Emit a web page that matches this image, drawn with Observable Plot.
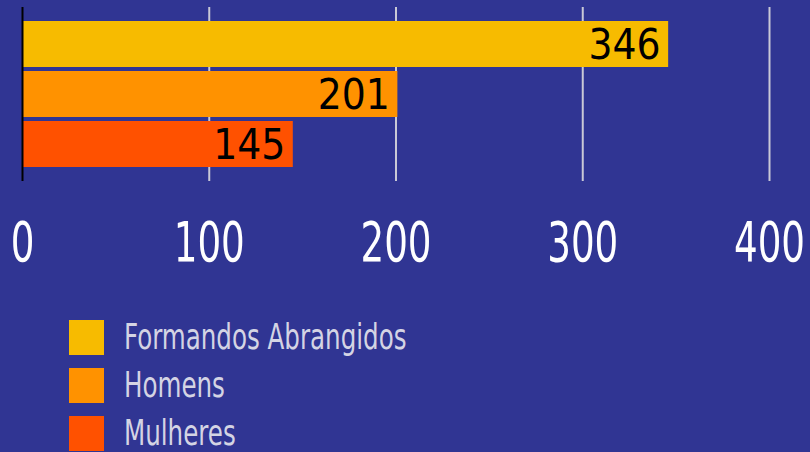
<!DOCTYPE html>
<html>
<head>
<meta charset="utf-8">
<script src="https://cdn.jsdelivr.net/npm/d3@7"></script>
<script src="https://cdn.jsdelivr.net/npm/@observablehq/plot@0.6"></script>
<style>
  html, body { margin: 0; padding: 0; background: #303593; }
  body { width: 810px; height: 452px; overflow: hidden; font-family: "Liberation Sans Narrow", "DejaVu Sans Condensed", sans-serif; }
  #chart svg { display: block; background: #303593; }
  #legend { position: absolute; left: 69px; top: 320px; }
  .item { display: flex; align-items: center; height: 48px; }
  .sw { width: 35px; height: 35px; flex: none; margin-top: -13px; }
  .lab { display: inline-block; color: #d4d4e4; font-size: 35px; margin-left: 20px; margin-top: -13px; line-height: 35px; transform: scaleX(0.78); transform-origin: left center; white-space: nowrap; }
</style>
</head>
<body>
<div id="chart"></div>
<div id="legend"></div>
<script>
const categories = ["Formandos Abrangidos", "Homens", "Mulheres"];
const values = [346, 201, 145];
const colors = ["#F7BB00", "#FF9200", "#FF5100"];
const ticks = [0, 100, 200, 300, 400];

const data = categories.map((c, i) => ({cat: c, value: values[i]}));

const chart = Plot.plot({
  width: 810,
  height: 290,
  marginLeft: 22,
  marginRight: 41,
  marginTop: 7,
  marginBottom: 109,
  style: {background: "#303593", fontFamily: "'Liberation Sans Narrow', 'DejaVu Sans Condensed', sans-serif"},
  x: {domain: [0, 400], ticks: ticks, label: null},
  y: {domain: categories, paddingInner: 0.09, paddingOuter: 0.27, axis: null},
  color: {domain: categories, range: colors},
  marks: [
    Plot.ruleX(ticks.slice(1), {stroke: "#c9c9d6", strokeWidth: 2}),
    Plot.barX(data, {x: "value", y: "cat", fill: "cat"}),
    Plot.ruleX([0], {stroke: "#000", strokeWidth: 2}),
    Plot.text(data, {x: "value", y: "cat", text: d => String(d.value), textAnchor: "end", dx: -8, dy: 1, fontSize: 42, fill: "#000", ariaLabel: "value-labels"}),
    Plot.axisX({ticks: ticks, tickSize: 0, tickPadding: 40, fontSize: 56, fill: "#fff", tickFormat: d => String(d), label: null})
  ]
});
document.getElementById("chart").appendChild(chart);

// Narrow the glyphs horizontally (condensed look) around each text's anchor point.
function condense(sel, s) {
  d3.select(chart).selectAll(sel).each(function() {
    const t = this.getAttribute("transform") || "";
    let x = parseFloat(this.getAttribute("x"));
    if (!isFinite(x)) x = 0;
    this.setAttribute("transform", `${t} translate(${x},0) scale(${s},1) translate(${-x},0)`);
  });
}
condense("g[aria-label='x-axis tick label'] text", 0.74);
condense("g[aria-label='value-labels'] text", 0.8);

const legend = document.getElementById("legend");
categories.forEach((c, i) => {
  const row = document.createElement("div");
  row.className = "item";
  const sw = document.createElement("div");
  sw.className = "sw";
  sw.style.background = colors[i];
  const lab = document.createElement("span");
  lab.className = "lab";
  lab.textContent = c;
  row.appendChild(sw);
  row.appendChild(lab);
  legend.appendChild(row);
});
</script>
</body>
</html>
